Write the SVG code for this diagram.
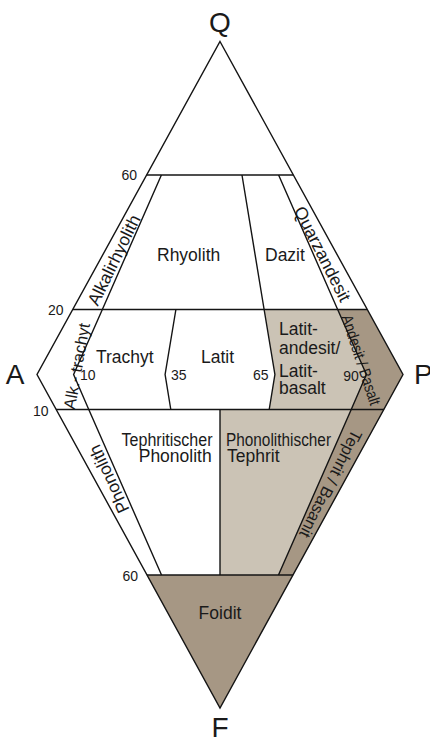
<svg xmlns="http://www.w3.org/2000/svg" width="430" height="738" viewBox="0 0 430 738">
  <style>
    .lbl { font-family: "Liberation Sans", Arial, sans-serif; font-size: 17.5px; fill: #1a1a1a; }
    .num { font-family: "Liberation Sans", Arial, sans-serif; font-size: 14px; fill: #1a1a1a; }
    .pole { font-family: "Liberation Sans", Arial, sans-serif; font-size: 28px; fill: #1a1a1a; }
    .white { fill: #ffffff; }
    .light { fill: #cbc3b5; }
    .dark { fill: #a69784; }
    .line { fill: none; stroke: #141414; stroke-width: 1.4; stroke-linejoin: miter; }
  </style>

  <rect width="430" height="738" fill="#ffffff"/>

  <!-- corner labels -->
  <g id="poles">
    <text class="pole" x="220" y="32" text-anchor="middle">Q</text>
    <text class="pole" x="15" y="384" text-anchor="middle">A</text>
    <text class="pole" x="414" y="384">P</text>
    <text class="pole" x="220" y="737" text-anchor="middle">F</text>
  </g>

  <!-- fields -->
  <g id="alkalirhyolith">
    <text class="lbl" transform="translate(114,260) rotate(-64)" x="0" y="6" text-anchor="middle">Alkalirhyolith</text>
  </g>
  <g id="rhyolith">
    <text class="lbl" x="157" y="261">Rhyolith</text>
  </g>
  <g id="dazit">
    <text class="lbl" x="265" y="261">Dazit</text>
  </g>
  <g id="quarzandesit">
    <text class="lbl" transform="translate(322.5,254) rotate(63)" x="0" y="6" text-anchor="middle">Quarzandesit</text>
  </g>
  <g id="alkalitrachyt">
    <text class="lbl" transform="translate(76.5,366) rotate(-80)" x="0" y="6" text-anchor="middle" style="font-size:16.5px">Alk.- trachyt</text>
  </g>
  <g id="trachyt">
    <text class="lbl" x="96" y="363">Trachyt</text>
  </g>
  <g id="latit">
    <text class="lbl" x="201" y="363">Latit</text>
  </g>
  <g id="latitandesit">
    <polygon class="light" points="264.12,309.5 337.65,309.5 366.4,374.5 351.23,409.5 269.21,409.5 274.9,374.5"/>
    <text class="lbl" x="279" y="335">Latit-</text>
    <text class="lbl" x="279" y="353.5">andesit/</text>
    <text class="lbl" x="279" y="376.5">Latit-</text>
    <text class="lbl" x="279" y="393.5">basalt</text>
  </g>
  <g id="andesit-basalt">
    <polygon class="dark" points="337.65,309.5 367.06,309.5 403,374.5 384.04,409.5 351.23,409.5 366.4,374.5"/>
    <text class="lbl" transform="translate(361,360) rotate(72)" x="0" y="5.5" text-anchor="middle" style="font-size:16px" textLength="94" lengthAdjust="spacingAndGlyphs">Andesit / Basalt</text>
  </g>
  <g id="phonolith">
    <text class="lbl" transform="translate(109,479) rotate(-115)" x="0" y="6" text-anchor="middle">Phonolith</text>
  </g>
  <g id="tephritischer-phonolith">
    <text class="lbl" x="212.5" y="445.7" text-anchor="end" textLength="91" lengthAdjust="spacingAndGlyphs">Tephritischer</text>
    <text class="lbl" x="211.7" y="462" text-anchor="end">Phonolith</text>
  </g>
  <g id="phonolithischer-tephrit">
    <polygon class="light" points="220,409.5 351.23,409.5 278.47,575 220,575"/>
    <text class="lbl" x="226" y="445.7" textLength="105" lengthAdjust="spacingAndGlyphs">Phonolithischer</text>
    <text class="lbl" x="227" y="462">Tephrit</text>
  </g>
  <g id="tephrit-basanit">
    <polygon class="dark" points="351.23,409.5 384.04,409.5 293.1,575 278.47,575"/>
    <text class="lbl" transform="translate(331,484) rotate(117)" x="0" y="6" text-anchor="middle" style="font-size:16.5px">Tephrit / Basanit</text>
  </g>
  <g id="foidit">
    <polygon class="dark" points="146.9,575 293.1,575 220,708"/>
    <text class="lbl" x="220" y="619" text-anchor="middle">Foidit</text>
  </g>

  <!-- boundary lines -->
  <g id="boundaries" class="line">
    <polygon points="220,41.5 403,374.5 220,708 37,374.5"/>
    <line x1="146.75" y1="175" x2="293.25" y2="175"/>
    <line x1="72.94" y1="309.5" x2="367.06" y2="309.5"/>
    <line x1="55.96" y1="409.5" x2="384.04" y2="409.5"/>
    <line x1="146.9" y1="575" x2="293.1" y2="575"/>
    <polyline points="161.4,175 102.35,309.5 73.6,374.5 88.77,409.5 161.53,575"/>
    <polyline points="175.9,309.5 165.1,374.5 170.79,409.5"/>
    <polyline points="241.98,175 264.12,309.5 274.9,374.5 269.21,409.5"/>
    <polyline points="278.6,175 337.65,309.5 366.4,374.5 351.23,409.5 278.47,575"/>
    <line x1="220" y1="409.5" x2="220" y2="575"/>
  </g>

  <!-- scale values -->
  <g id="values">
    <text class="num" x="137" y="180" text-anchor="end">60</text>
    <text class="num" x="63.5" y="314.5" text-anchor="end">20</text>
    <text class="num" x="48.5" y="415.5" text-anchor="end">10</text>
    <text class="num" x="138" y="581" text-anchor="end">60</text>
    <text class="num" x="80" y="380">10</text>
    <text class="num" x="171" y="380">35</text>
    <text class="num" x="253" y="380">65</text>
    <text class="num" x="343.3" y="380.5">90</text>
  </g>
</svg>
